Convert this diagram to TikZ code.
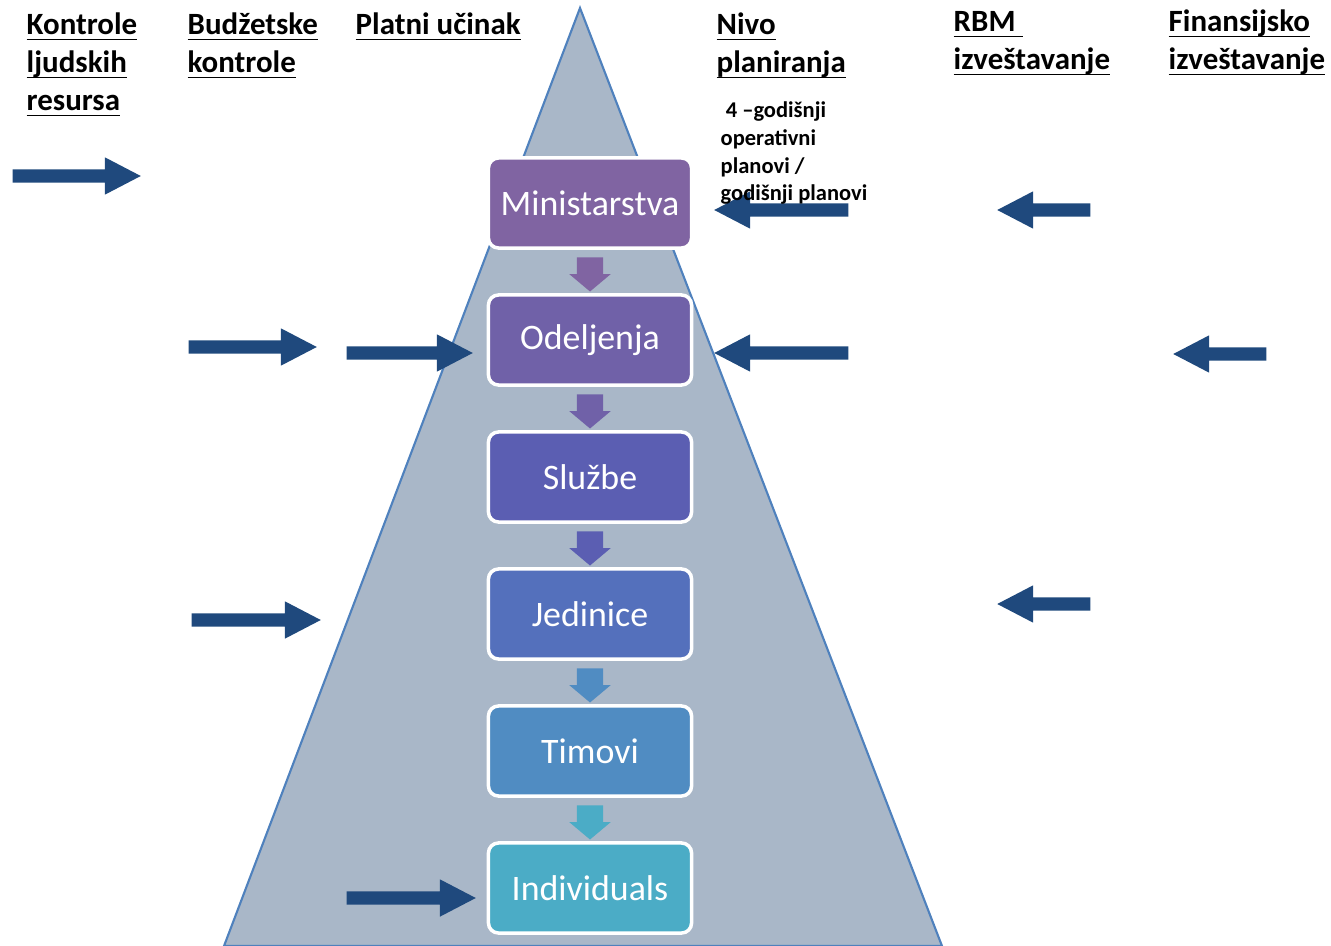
\documentclass[tikz,border=0pt]{standalone}
\usepackage{fontspec}
\setmainfont{Carlito}
\usetikzlibrary{shapes.arrows,calc}

\definecolor{pyrfill}{RGB}{169,183,200}
\definecolor{pyredge}{RGB}{79,129,189}
\definecolor{navy}{RGB}{31,73,125}
\definecolor{lvla}{RGB}{128,100,162}
\definecolor{lvlb}{RGB}{112,97,168}
\definecolor{lvlc}{RGB}{91,94,178}
\definecolor{lvld}{RGB}{84,112,188}
\definecolor{lvle}{RGB}{80,140,194}
\definecolor{lvlf}{RGB}{75,172,198}

\newcommand{\hl}[1]{\underline{\smash{#1}}}

\begin{document}
\begin{tikzpicture}[x=0.01cm, y=-0.01cm, >=latex,
		level/.style={draw=white, line width=1pt, rounded corners=1mm,
			minimum width=2.03cm, minimum height=0.9cm, text=white,
			font=\fontsize{10.2}{12}\selectfont},
		heading/.style={anchor=north west, inner sep=0pt, align=left,
			font=\bfseries\fontsize{8.8}{10.8}\selectfont},
		bigarrow/.style={single arrow, fill=navy, draw=none, inner xsep=0pt,
			inner ysep=0.06cm, minimum width=0.36cm, anchor=tail,
			single arrow head extend=0.12cm, single arrow tip angle=55},
		downarrow/.style={single arrow, shape border rotate=270, draw=none,
			inner xsep=0.125cm, inner ysep=0pt, minimum width=0.40cm,
			minimum height=0.34cm, single arrow head extend=0.075cm,
			single arrow tip angle=100, anchor=tail}]
			\useasboundingbox (0,0) rectangle (1331,946);
			% pyramid
			\draw[pyredge, fill=pyrfill, line width=0.6pt]
			(580,8) -- (942,946) -- (224,946) -- cycle;
			% levels of the organisation
			\foreach \name/\col [count=\i] in {Ministarstva/lvla, Odeljenja/lvlb,
				Službe/lvlc, Jedinice/lvld, Timovi/lvle, Individuals/lvlf}
				{
					\node[level, fill=\col] (lvl\i) at (590,{203+137*(\i-1)}) {\name};
				}
			\foreach \i/\col in {1/lvla, 2/lvlb, 3/lvlc, 4/lvle, 5/lvlf}
				{
					\node[downarrow, fill=\col] (down\i) at ($(lvl\i.south)+(0,7)$) {};
				}
			% block arrows: tail x / tail y / length / direction
			\foreach \tx/\ty/\len/\rot [count=\i] in {12/176/1.28/0, 188/347/1.28/0,
				346/353/1.26/0, 191/620/1.29/0, 346/898/1.29/0,
				849/210/1.34/180, 849/353/1.34/180, 1091/210/0.93/180,
				1267/354/0.93/180, 1091/604/0.93/180}
				{
					\node[bigarrow, minimum height=\len cm, shape border rotate=\rot]
					(arr\i) at (\tx,\ty) {};
				}
			% column headings
			\node[heading] (hrs) at (26,34) {\hl{Kontrole}\\\hl{ljudskih}\\\hl{resursa}};
			\node[heading] (budget) at (187,34) {\hl{Budžetske}\\\hl{kontrole}};
			\node[heading] (pay) at (355,34) {\hl{Platni učinak}};
			\node[heading] (plan) at (716,34) {\hl{Nivo}\\\hl{planiranja}};
			\node[heading] (rbm) at (953,31) {\hl{RBM }\\\hl{izveštavanje}};
			\node[heading] (fin) at (1168,31) {\hl{Finansijsko}\\\hl{izveštavanje}};
			\node[anchor=north west, inner sep=0pt, align=left,
				font=\bfseries\fontsize{6.4}{7.9}\selectfont] (plans) at (720,101)
			{\ 4 –godišnji\\operativni\\planovi /\\godišnji planovi};
		\end{tikzpicture}
\end{document}
